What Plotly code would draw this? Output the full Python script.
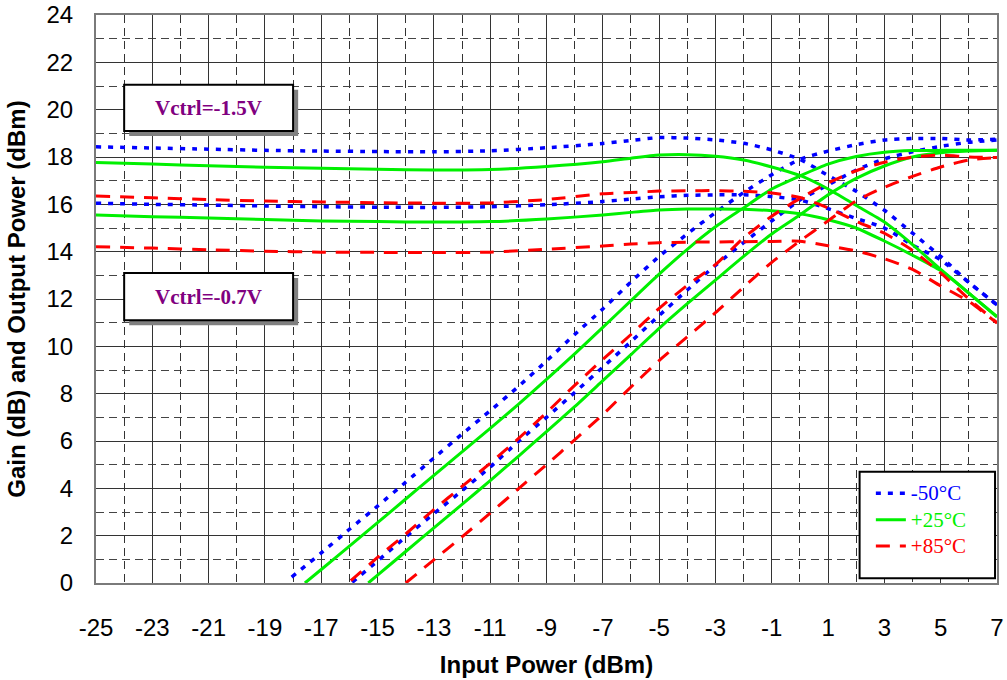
import plotly.graph_objects as go

# Input power grid for the gain curves (dBm)
pin_gain = [-25, -23, -21, -19, -17, -15, -13, -11, -9, -7, -6, -5, -4, -3,
            -2, -1, 0, 1, 2, 3, 4, 5, 6, 7]

# Gain (dB) at Vctrl = -1.5 V
gain_m50_v15 = [18.43, 18.38, 18.33, 18.28, 18.25, 18.23, 18.22, 18.26, 18.39, 18.57, 18.70, 18.82,
                18.80, 18.72, 18.58, 18.30, 17.90, 17.22, 16.55, 15.75, 14.78, 13.80, 12.70, 11.75]
gain_p25_v15 = [17.77, 17.70, 17.63, 17.57, 17.52, 17.48, 17.45, 17.47, 17.60, 17.80, 17.95, 18.08,
                18.10, 18.03, 17.87, 17.58, 17.22, 16.65, 15.95, 15.25, 14.30, 13.25, 12.25, 11.25]
gain_p85_v15 = [16.35, 16.28, 16.20, 16.14, 16.10, 16.07, 16.05, 16.06, 16.20, 16.45, 16.50, 16.56,
                16.57, 16.58, 16.55, 16.48, 16.29, 15.85, 15.28, 14.78, 14.05, 13.10, 12.00, 11.00]

# Gain (dB) at Vctrl = -0.7 V
gain_m50_v07 = [16.05, 16.00, 15.97, 15.93, 15.90, 15.88, 15.87, 15.90, 15.98, 16.12, 16.22, 16.32,
                16.38, 16.40, 16.40, 16.33, 16.18, 15.82, 15.40, 15.00, 14.28, 13.65, 12.70, 11.75]
gain_p25_v07 = [15.55, 15.48, 15.42, 15.36, 15.30, 15.27, 15.25, 15.27, 15.38, 15.55, 15.66, 15.76,
                15.80, 15.80, 15.79, 15.73, 15.60, 15.35, 15.00, 14.45, 13.85, 13.20, 12.25, 11.25]
gain_p85_v07 = [14.21, 14.15, 14.08, 14.02, 13.98, 13.97, 13.96, 13.98, 14.10, 14.24, 14.32, 14.38,
                14.40, 14.41, 14.42, 14.43, 14.44, 14.25, 14.03, 13.70, 13.25, 12.55, 11.90, 10.98]

# Output power (dBm) at Vctrl = -1.5 V
pin_pout_m50_v15 = [-18.05, -17, -16, -15, -14, -13, -12, -11, -10, -9, -8, -7, -6, -5, -4, -3,
                    -2, -1, 0, 1, 2, 3, 4, 5, 6, 7]
pout_m50_v15 = [0.25, 1.27, 2.27, 3.25, 4.26, 5.28, 6.29, 7.28, 8.30, 9.38, 10.50, 11.58, 12.72,
                13.80, 14.75, 15.65, 16.50, 17.25, 17.90, 18.25, 18.52, 18.72, 18.78, 18.78, 18.72, 18.75]
pin_pout_p25_v15 = [-17.58, -17, -16, -15, -14, -13, -12, -11, -10, -9, -8, -7, -6, -5, -4, -3,
                    -2, -1, 0, 1, 2, 3, 4, 5, 6, 7]
pout_p25_v15 = [0.0, 0.57, 1.56, 2.55, 3.55, 4.55, 5.54, 6.53, 7.55, 8.60, 9.68, 10.80, 11.93,
                13.05, 14.10, 15.05, 15.85, 16.65, 17.20, 17.70, 18.02, 18.20, 18.27, 18.28, 18.28, 18.28]
pin_pout_p85_v15 = [-15.95, -15, -14, -13, -12, -11, -10, -9, -8, -7, -6, -5, -4, -3,
                    -2, -1, 0, 1, 2, 3, 4, 5, 6, 7]
pout_p85_v15 = [0.10, 1.08, 2.07, 3.10, 4.08, 5.06, 6.10, 7.20, 8.35, 9.45, 10.50, 11.60, 12.58,
                13.45, 14.58, 15.50, 16.25, 16.90, 17.42, 17.78, 18.00, 18.08, 18.00, 17.98]

# Output power (dBm) at Vctrl = -0.7 V
pin_pout_m50_v07 = [-15.9, -15, -14, -13, -12, -11, -10, -9, -8, -7, -6, -5, -4, -3,
                    -2, -1, 0, 1, 2, 3, 4, 5, 6, 7]
pout_m50_v07 = [0.03, 0.93, 1.95, 2.93, 3.90, 4.90, 5.98, 7.00, 8.05, 9.12, 10.20, 11.30, 12.38,
                13.42, 14.38, 15.30, 16.18, 16.82, 17.45, 17.92, 18.22, 18.45, 18.62, 18.72]
pin_pout_p25_v07 = [-15.33, -15, -14, -13, -12, -11, -10, -9, -8, -7, -6, -5, -4, -3,
                    -2, -1, 0, 1, 2, 3, 4, 5, 6, 7]
pout_p25_v07 = [0.0, 0.33, 1.33, 2.33, 3.32, 4.33, 5.35, 6.40, 7.45, 8.55, 9.65, 10.76, 11.80,
                12.80, 13.80, 14.75, 15.55, 16.40, 17.10, 17.62, 18.00, 18.18, 18.25, 18.28]
pin_pout_p85_v07 = [-14.0, -13, -12, -11, -10, -9, -8, -7, -6, -5, -4, -3, -2, -1, 0, 1, 2, 3, 4, 5, 6, 7]
pout_p85_v07 = [0.0, 0.98, 1.95, 2.95, 3.98, 5.00, 6.05, 7.12, 8.28, 9.40, 10.40, 11.42, 12.50,
                13.55, 14.45, 15.30, 16.15, 16.72, 17.18, 17.58, 17.87, 17.98]

x_ticks = list(range(-25, 8, 2))
y_ticks = list(range(0, 25, 2))

temps = ["-50°C", "+25°C", "+85°C"]
colors = ["#0000FF", "#00F000", "#FF0000"]
dashes = ["5px,7px", "solid", "14px,10px"]
widths = [3.5, 3, 3]

series = [
    # (temperature index, x values, y values)
    (0, pin_gain, gain_m50_v15), (0, pin_gain, gain_m50_v07),
    (0, pin_pout_m50_v15, pout_m50_v15), (0, pin_pout_m50_v07, pout_m50_v07),
    (1, pin_gain, gain_p25_v15), (1, pin_gain, gain_p25_v07),
    (1, pin_pout_p25_v15, pout_p25_v15), (1, pin_pout_p25_v07, pout_p25_v07),
    (2, pin_gain, gain_p85_v15), (2, pin_gain, gain_p85_v07),
    (2, pin_pout_p85_v15, pout_p85_v15), (2, pin_pout_p85_v07, pout_p85_v07),
]

fig = go.Figure()
shown = set()
for ti, xs, ys in series:
    first = ti not in shown
    shown.add(ti)
    fig.add_trace(go.Scatter(
        x=xs, y=ys, mode="lines",
        name=f"<span style='color:{colors[ti]};font-size:21px'>{temps[ti]}</span>",
        legendgroup=temps[ti], showlegend=first,
        line=dict(color=colors[ti], width=widths[ti], dash=dashes[ti],
                  shape="spline", smoothing=0.6),
    ))

axis_font = dict(family="Liberation Sans, Arial", size=24, color="black")
title_font = dict(family="Liberation Sans, Arial", size=24, color="black", weight="bold")

fig.update_xaxes(
    range=[-25, 7], tickvals=x_ticks, ticktext=[str(v) for v in x_ticks],
    showgrid=True, gridcolor="#333333", gridwidth=1,
    minor=dict(tick0=-24, dtick=2, showgrid=True, gridcolor="#333333",
               griddash="8px,5px", gridwidth=1),
    showline=True, mirror=True, linecolor="#7a7a7a", linewidth=2,
    ticks="", ticklabelstandoff=22, tickfont=axis_font, zeroline=False,
    automargin=False,
    title=dict(text="Input Power (dBm)", font=title_font, standoff=16),
)
fig.update_yaxes(
    range=[0, 24], tickvals=y_ticks, ticktext=[str(v) for v in y_ticks],
    showgrid=True, gridcolor="#333333", gridwidth=1,
    minor=dict(tick0=1, dtick=2, showgrid=True, gridcolor="#444444",
               griddash="8px,5px", gridwidth=1),
    showline=True, mirror=True, linecolor="#7a7a7a", linewidth=2,
    ticks="", ticklabelstandoff=16, tickfont=axis_font, zeroline=False,
    automargin=False,
    title=dict(text="Gain (dB) and Output Power (dBm)", font=title_font, standoff=14),
)

# Labelled boxes with drop shadows for the two control voltages
shapes = []
annotations = []
for label, y0, y1 in [("Vctrl=-1.5V", 19.1, 21.05), ("Vctrl=-0.7V", 11.1, 13.1)]:
    shapes.append(dict(type="rect", xref="x", yref="y", x0=-24 + 0.18, x1=-18 + 0.18,
                       y0=y0 - 0.21, y1=y1 - 0.21, fillcolor="#808080",
                       line=dict(width=0), layer="above"))
    shapes.append(dict(type="rect", xref="x", yref="y", x0=-24, x1=-18, y0=y0, y1=y1,
                       fillcolor="white", line=dict(color="black", width=2), layer="above"))
    annotations.append(dict(x=-21, y=(y0 + y1) / 2, xref="x", yref="y", text=f"<b>{label}</b>",
                            showarrow=False,
                            font=dict(family="Liberation Serif, Times New Roman", size=21,
                                      color="#800080")))

# Legend frame
shapes.append(dict(type="rect", xref="x", yref="y", x0=2.12, x1=6.93, y0=0.2, y1=4.7,
                   fillcolor="white", line=dict(color="black", width=2), layer="above"))

fig.update_layout(
    width=1007, height=680,
    margin=dict(l=96, r=10, t=15, b=97),
    plot_bgcolor="white", paper_bgcolor="white",
    shapes=shapes, annotations=annotations,
    legend=dict(x=0.86, y=0.19, xanchor="left", yanchor="top",
                bgcolor="rgba(0,0,0,0)", borderwidth=0,
                font=dict(family="Liberation Serif, Times New Roman", size=18),
                itemwidth=30, tracegroupgap=0),
)

fig.write_html("out.html")
